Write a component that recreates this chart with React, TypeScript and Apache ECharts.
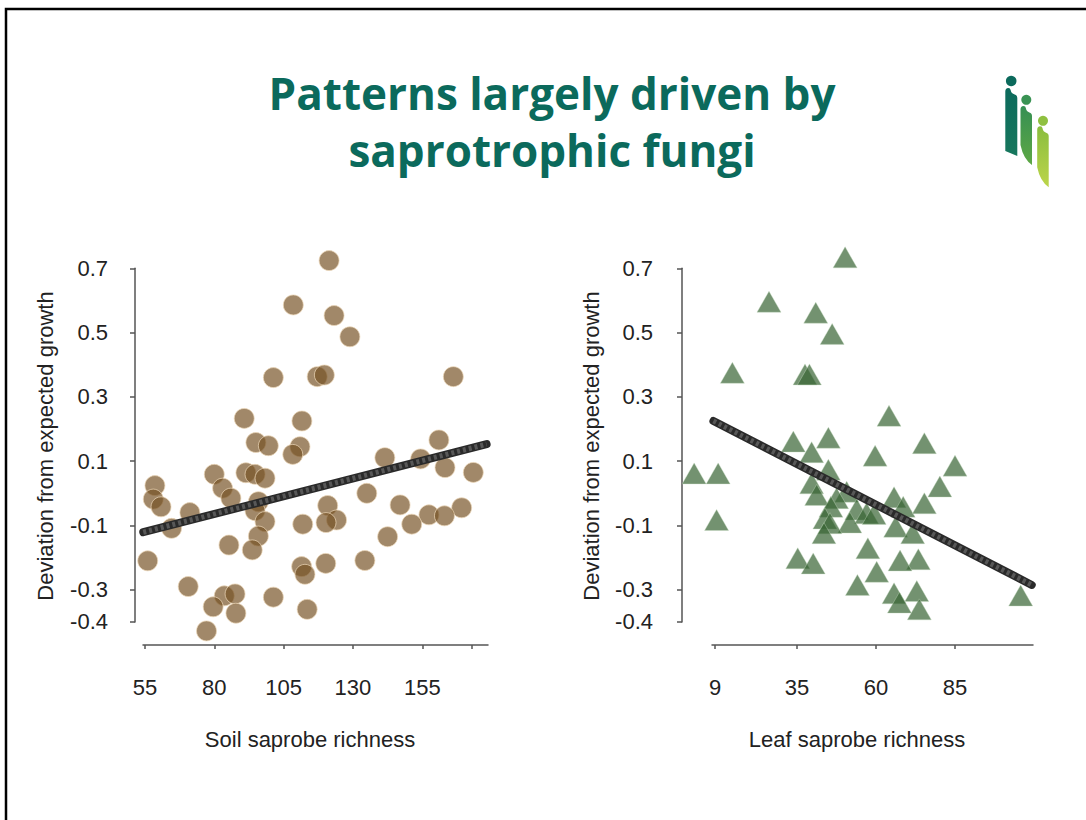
import React, { useEffect, useRef } from "react";
import * as echarts from "echarts";

// ---------- data ----------
const soilX = [121.4, 108.5, 123.2, 128.9, 101.3, 117.1, 119.7, 166.2, 90.8, 111.6, 95.0, 99.5, 110.9, 108.3, 161, 141.5, 154.4, 163.2, 173.4, 80, 91.4, 94.7, 98.3, 58.6, 83, 58, 86, 60.8, 95.9, 94.7, 120.9, 135, 147, 169.2, 71.2, 157.4, 163, 98.3, 124.1, 120.3, 111.9, 151.2, 64.6, 95.9, 142.5, 85.3, 93.7, 56, 111.5, 112.7, 120.2, 134.3, 70.6, 83.6, 87.5, 101.3, 79.6, 87.8, 113.5, 77.2];
const soilY = [0.724, 0.586, 0.553, 0.487, 0.36, 0.363, 0.368, 0.363, 0.233, 0.225, 0.158, 0.148, 0.145, 0.121, 0.166, 0.111, 0.107, 0.08, 0.065, 0.059, 0.064, 0.059, 0.047, 0.024, 0.016, -0.018, -0.015, -0.042, -0.026, -0.054, -0.038, 0.0, -0.036, -0.045, -0.06, -0.067, -0.07, -0.088, -0.083, -0.091, -0.096, -0.096, -0.109, -0.133, -0.135, -0.161, -0.176, -0.21, -0.228, -0.252, -0.218, -0.209, -0.29, -0.319, -0.313, -0.323, -0.353, -0.373, -0.361, -0.428];
const soilFitX = [54.4, 178.2];
const soilFitY = [-0.121, 0.153];

const leafX = [50.2, 26.1, 40.9, 46.1, 14.5, 37.5, 38.9, 64.1, 33.8, 44.9, 75.3, 39.6, 59.7, 85, 2.4, 10.0, 9.5, 80.2, 39.6, 44.9, 41.2, 50.7, 47.5, 65.7, 68.6, 75.3, 45.7, 53.9, 57.0, 59.4, 43.8, 51.7, 45.4, 66.2, 71.6, 43.5, 57.4, 35.2, 40.1, 73.4, 67.6, 60.2, 54.1, 72.9, 65.7, 67.4, 73.7, 105.8];
const leafY = [0.734, 0.596, 0.562, 0.496, 0.375, 0.37, 0.37, 0.241, 0.161, 0.173, 0.156, 0.128, 0.117, 0.086, 0.062, 0.062, -0.083, 0.021, 0.031, 0.073, -0.005, 0.005, -0.015, -0.012, -0.042, -0.031, -0.042, -0.05, -0.062, -0.064, -0.078, -0.091, -0.093, -0.104, -0.124, -0.124, -0.171, -0.202, -0.218, -0.205, -0.209, -0.244, -0.285, -0.304, -0.311, -0.34, -0.361, -0.318];
const leafFitX = [8.5, 109.3];
const leafFitY = [0.225, -0.285];

const yTicks = [-0.4, -0.3, -0.1, 0.1, 0.3, 0.5, 0.7];
const soilTickLabels = [55, 80, 105, 130, 155];
const soilTicks = [55, 80, 105, 130, 155, 173];
const leafTickLabels = [9, 35, 60, 85];

const titleLines = ["Patterns largely driven by", "saprotrophic fungi"];
const yTitle = "Deviation from expected growth";
const soilTitle = "Soil saprobe richness";
const leafTitle = "Leaf saprobe richness";

// ---------- logo shapes ----------
function bodyPath(w: number, h: number, taper: boolean) {
  const top = `M0 3.5 Q0 0 3 0 Q5.2 0 5.4 2.3 Q5.9 5.8 ${w - 2.6} 6.4 Q${w} 7 ${w} 10 L${w} ${h}`;
  const bottom = taper ? ` Q${w * 0.25} ${h - 6} 0 ${h - 20} Z` : ` L0 ${h - 5} Z`;
  return top + bottom;
}
echarts.graphic.registerShape("logo1", echarts.graphic.extendPath(bodyPath(12, 68, false), {}));
echarts.graphic.registerShape("logo2", echarts.graphic.extendPath(bodyPath(11.5, 59, true), {}));
echarts.graphic.registerShape("logo3", echarts.graphic.extendPath(bodyPath(11.5, 61, true), {}));

const FONT = "Liberation Sans, Arial, sans-serif";
const FS = 22;

function pairs(xs: number[], ys: number[]) {
  return xs.map((x, i) => [x, ys[i]]);
}

function yAxisCfg(gridIndex: number, offset: number, margin: number) {
  return {
    type: "value",
    gridIndex,
    min: -0.4,
    max: 0.7,
    offset,
    splitLine: { show: false },
    axisLine: { show: true, onZero: false, lineStyle: { color: "#555", width: 1.5 } },
    axisTick: { show: true, length: 5, customValues: yTicks, lineStyle: { color: "#555", width: 1.5 } },
    axisLabel: {
      customValues: yTicks,
      margin,
      fontSize: FS,
      color: "#222",
      fontFamily: FONT,
      formatter: (v: number) => v.toFixed(1),
    },
  };
}

function xAxisCfg(gridIndex: number, min: number, max: number, ticks: number[], labels: number[]) {
  return {
    type: "value",
    gridIndex,
    min,
    max,
    position: "bottom",
    offset: 23,
    splitLine: { show: false },
    axisLine: { show: true, onZero: false, lineStyle: { color: "#555", width: 1.5 } },
    axisTick: { show: true, length: 4, customValues: ticks, lineStyle: { color: "#555", width: 1.5 } },
    axisLabel: {
      customValues: labels,
      margin: 32,
      fontSize: FS,
      color: "#222",
      fontFamily: FONT,
    },
  };
}

function fitSeries(idx: number, xs: number[], ys: number[]) {
  const data = pairs(xs, ys);
  return [
    {
      type: "line",
      xAxisIndex: idx,
      yAxisIndex: idx,
      data,
      symbol: "none",
      silent: true,
      z: 5,
      lineStyle: { color: "#2a2a2a", width: 8, cap: "round" },
    },
    {
      type: "line",
      xAxisIndex: idx,
      yAxisIndex: idx,
      data,
      symbol: "none",
      silent: true,
      z: 6,
      lineStyle: { color: "#585858", width: 5, type: [3, 3] },
    },
  ];
}

export default function App() {
  const ref = useRef<HTMLDivElement>(null);
  useEffect(() => {
    document.body.style.margin = "0";
    const chart = echarts.init(ref.current!, null, { renderer: "svg" });
    const titleFont = "bold 44px 'Open Sans', Lato, sans-serif";
    const option: any = {
      animation: false,
      backgroundColor: "#ffffff",
      grid: [
        { left: 143, top: 268.3, width: 345, height: 353.6 },
        { left: 712, top: 268.3, width: 321, height: 353.6 },
      ],
      xAxis: [
        xAxisCfg(0, 54.3, 178.7, soilTicks, soilTickLabels),
        xAxisCfg(1, 8.05, 109.7, leafTickLabels, leafTickLabels),
      ],
      yAxis: [yAxisCfg(0, 8, 27), yAxisCfg(1, 30, 29)],
      series: [
        {
          type: "scatter",
          xAxisIndex: 0,
          yAxisIndex: 0,
          data: pairs(soilX, soilY),
          symbol: "circle",
          symbolSize: 20,
          clip: false,
          itemStyle: {
            color: "rgba(118,82,36,0.86)",
            borderColor: "rgba(235,215,185,0.9)",
            borderWidth: 1,
          },
        },
        ...fitSeries(0, soilFitX, soilFitY),
        {
          type: "scatter",
          xAxisIndex: 1,
          yAxisIndex: 1,
          data: pairs(leafX, leafY),
          symbol: "triangle",
          symbolSize: [24, 21],
          clip: false,
          itemStyle: {
            color: "rgba(56,100,52,0.88)",
            borderColor: "rgba(200,220,195,0.6)",
            borderWidth: 0.8,
          },
        },
        ...fitSeries(1, leafFitX, leafFitY),
      ],
      graphic: [
        {
          type: "rect",
          shape: { x: 6, y: 9, width: 1300, height: 1000 },
          style: { fill: "none", stroke: "#000", lineWidth: 2.5 },
          silent: true,
        },
        {
          type: "text",
          x: 552,
          y: 92.5,
          style: { text: titleLines[0], fill: "#0b6a5c", font: titleFont, align: "center", verticalAlign: "middle" },
        },
        {
          type: "text",
          x: 552,
          y: 150,
          style: { text: titleLines[1], fill: "#0b6a5c", font: titleFont, align: "center", verticalAlign: "middle" },
        },
        {
          type: "text",
          x: 45,
          y: 446,
          rotation: Math.PI / 2,
          style: { text: yTitle, fill: "#222", font: `${FS}px ${FONT}`, align: "center", verticalAlign: "middle" },
        },
        {
          type: "text",
          x: 591,
          y: 446,
          rotation: Math.PI / 2,
          style: { text: yTitle, fill: "#222", font: `${FS}px ${FONT}`, align: "center", verticalAlign: "middle" },
        },
        {
          type: "text",
          x: 310,
          y: 739,
          style: { text: soilTitle, fill: "#222", font: `${FS}px ${FONT}`, align: "center", verticalAlign: "middle" },
        },
        {
          type: "text",
          x: 857,
          y: 739,
          style: { text: leafTitle, fill: "#222", font: `${FS}px ${FONT}`, align: "center", verticalAlign: "middle" },
        },
        // logo
        {
          type: "logo1",
          x: 1005.3,
          y: 88,
          style: {
            fill: new echarts.graphic.LinearGradient(0, 0, 0, 1, [
              { offset: 0, color: "#0c6a5c" },
              { offset: 1, color: "#17775d" },
            ]),
          },
        },
        { type: "circle", shape: { cx: 1011.2, cy: 81, r: 5.3 }, style: { fill: "#0c6a5c" } },
        {
          type: "logo2",
          x: 1020.5,
          y: 106,
          style: {
            fill: new echarts.graphic.LinearGradient(0, 0, 0, 1, [
              { offset: 0, color: "#358f53" },
              { offset: 1, color: "#5ea845" },
            ]),
          },
        },
        { type: "circle", shape: { cx: 1026.3, cy: 99.8, r: 5 }, style: { fill: "#3a9354" } },
        {
          type: "logo3",
          x: 1037.2,
          y: 126.3,
          style: {
            fill: new echarts.graphic.LinearGradient(0, 0, 0, 1, [
              { offset: 0, color: "#8abd3e" },
              { offset: 1, color: "#bcd54a" },
            ]),
          },
        },
        { type: "circle", shape: { cx: 1043, cy: 120.8, r: 5 }, style: { fill: "#8fc040" } },
      ],
    };
    chart.setOption(option);
    return () => chart.dispose();
  }, []);
  return <div ref={ref} style={{ width: 1086, height: 820 }} />;
}
